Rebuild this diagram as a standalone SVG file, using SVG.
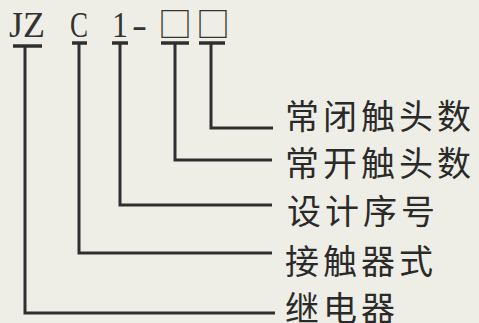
<svg xmlns="http://www.w3.org/2000/svg" width="479" height="323" viewBox="0 0 479 323">
<style>
.bg{fill:#eeeee6}
.code{font-family:"Liberation Serif","DejaVu Serif",serif;font-size:36px;fill:#333}
.box{font-family:"Noto Sans CJK SC","DejaVu Sans",sans-serif;font-size:34px;fill:#333}
.lbl{font-family:"Noto Sans CJK SC","Noto Sans",sans-serif;font-size:34px;letter-spacing:4px;fill:#2a2a2a}
.ln{fill:none;stroke:#2f2f2f;stroke-width:3}
.bar{stroke:#2f2f2f;stroke-width:3.5}
</style>
<rect class="bg" x="0" y="0" width="479" height="323"/>
<g id="code">
<text class="code" x="9" y="37" textLength="36" lengthAdjust="spacingAndGlyphs">JZ</text>
<text class="code" x="70" y="37" textLength="18" lengthAdjust="spacingAndGlyphs">C</text>
<text class="code" x="112" y="37" textLength="16" lengthAdjust="spacingAndGlyphs">1</text>
<text class="code" x="132" y="37" textLength="15" lengthAdjust="spacingAndGlyphs">-</text>
<text class="box" x="158" y="37">□</text>
<text class="box" x="196" y="37">□</text>
</g>
<g id="connectors">
<line class="bar" x1="13" y1="46" x2="42" y2="46"/>
<line class="bar" x1="72" y1="43" x2="87" y2="43"/>
<line class="bar" x1="112" y1="43" x2="128" y2="43"/>
<line class="bar" x1="161" y1="43" x2="189" y2="43"/>
<line class="bar" x1="199" y1="43" x2="225" y2="43"/>
<path class="ln" d="M25,46 V313 H275"/>
<path class="ln" d="M79,43 V253 H272"/>
<path class="ln" d="M120,43 V205 H272"/>
<path class="ln" d="M175,43 V160 H272"/>
<path class="ln" d="M211,43 V128 H273"/>
</g>
<g id="n-bichu"><text class="lbl" x="285" y="129">常闭触头数</text></g>
<g id="n-kaichu"><text class="lbl" x="285" y="176">常开触头数</text></g>
<g id="n-sheji"><text class="lbl" x="287" y="224">设计序号</text></g>
<g id="n-jiechu"><text class="lbl" x="285" y="274">接触器式</text></g>
<g id="n-jidian"><text class="lbl" x="285" y="321">继电器</text></g>
</svg>
